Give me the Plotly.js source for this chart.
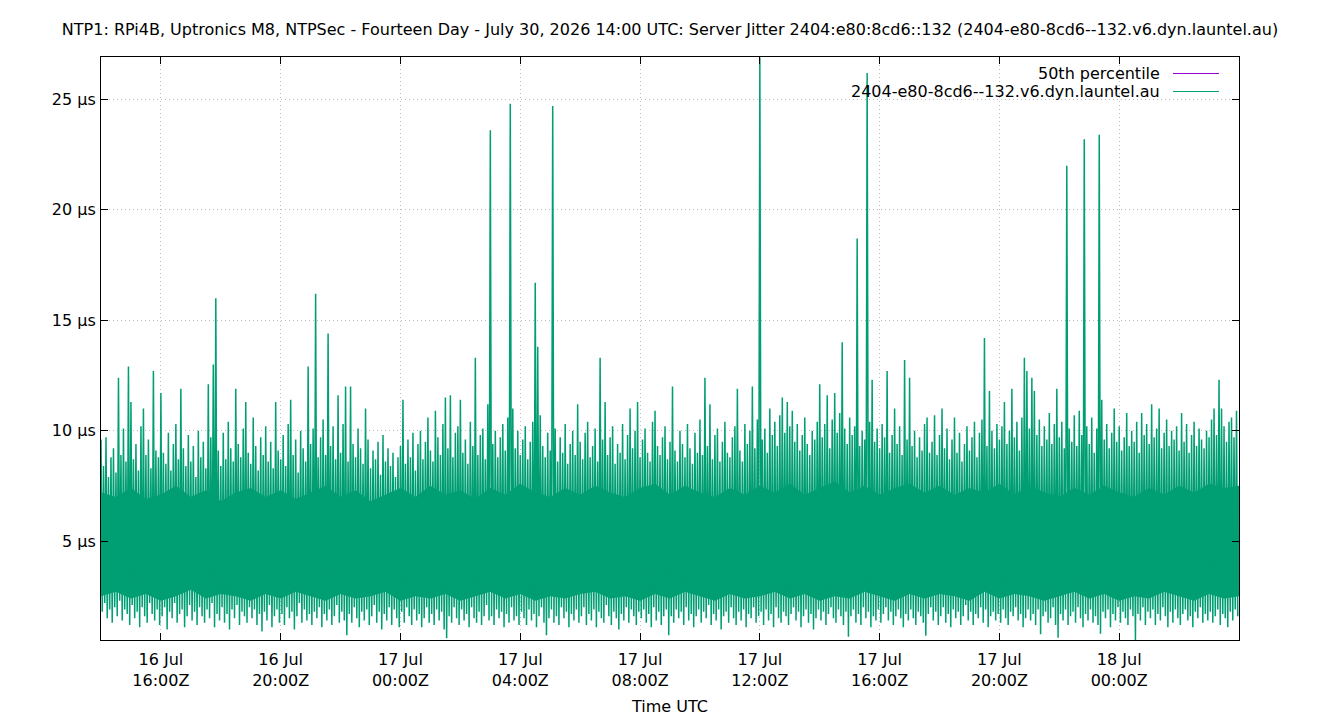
<!DOCTYPE html>
<html>
<head>
<meta charset="utf-8">
<script src="https://cdn.plot.ly/plotly-3.0.1.min.js"></script>
<style>
  html, body { margin: 0; padding: 0; background: #ffffff; }
  #chart { width: 1340px; height: 720px; }
</style>
</head>
<body>
<div id="chart"></div>
<script>
// ---- Data ----
const chartTitle = "NTP1: RPi4B, Uptronics M8, NTPSec - Fourteen Day - July 30, 2026 14:00 UTC: Server Jitter 2404:e80:8cd6::132 (2404-e80-8cd6--132.v6.dyn.launtel.au)";
const seriesName = "2404-e80-8cd6--132.v6.dyn.launtel.au";
const medianName = "50th percentile";

// sampling: one high and one low reading per 5-minute bin, starting 16 Jul 14:00 UTC
const sampleStart = "2026-07-16T14:00:00Z";
const binMinutes = 5;

// highest jitter reading in each 5-minute bin (µs), 12 per hour
const jitterHigh = [
  9.6, 8.4, 9.7, 7.9, 8.8, 9.2, 8.1, 12.4, 8.9, 10.1, 8.6, 12.9,
  11.3, 8.7, 9.4, 8.2, 10.2, 11.0, 8.9, 9.6, 8.3, 12.7, 9.1, 8.8,
  11.7, 9.0, 8.5, 9.9, 8.2, 9.4, 10.3, 8.7, 11.9, 9.2, 8.4, 9.8,
  8.6, 9.3, 7.9, 10.0, 8.8, 9.5, 8.3, 12.1, 9.7, 13.0, 16.0, 9.1,
  8.4, 9.9, 8.7, 10.4, 9.2, 8.6, 11.9, 9.4, 8.8, 10.1, 11.3, 9.0,
  8.5, 10.6, 9.3, 8.2, 9.7, 8.9, 10.2, 8.6, 9.5, 8.3, 11.3, 9.1,
  8.7, 9.8, 8.4, 10.3, 11.4, 8.9, 9.6, 8.1, 10.0, 9.2, 8.6, 12.9,
  9.4, 10.1, 16.2, 8.8, 9.7, 10.5, 8.9, 14.4, 9.3, 10.2, 8.7, 11.6,
  9.0, 10.3, 12.0, 8.6, 12.0, 9.4, 8.8, 10.1, 9.2, 8.5, 11.0, 9.6,
  8.3, 9.1, 8.7, 9.5, 8.0, 9.8, 8.6, 9.2, 8.4, 9.0, 7.9, 8.8,
  9.3, 11.4, 8.5, 9.6, 8.8, 9.9, 8.2, 9.4, 10.0, 8.7, 9.5, 10.6,
  9.1, 8.6, 10.9, 9.7, 8.9, 10.3, 11.5, 9.2, 11.6, 8.8, 9.9, 10.2,
  11.4, 9.0, 9.6, 8.5, 10.4, 9.3, 13.3, 8.9, 9.8, 10.1, 8.7, 11.2,
  23.6, 9.4, 10.0, 8.8, 9.7, 10.3, 9.1, 10.6, 24.8, 11.0, 9.2, 10.0,
  8.9, 9.6, 10.2, 8.7, 9.5, 10.4, 16.7, 13.8, 10.7, 9.3, 8.8, 9.9,
  9.1, 24.7, 10.1, 8.6, 9.7, 9.0, 10.3, 8.5, 9.4, 10.0, 8.9, 11.2,
  9.5, 8.7, 9.9, 10.4, 8.8, 9.3, 10.1, 8.6, 13.3, 9.6, 11.3, 8.9,
  9.7, 10.2, 8.5, 9.4, 9.0, 10.3, 8.7, 9.8, 11.0, 9.2, 10.0, 11.3,
  8.8, 9.6, 10.1, 9.0, 8.6, 10.4, 10.9, 9.3, 8.9, 9.7, 10.2, 8.7,
  9.5, 12.0, 9.1, 8.6, 10.0, 9.4, 8.8, 10.3, 9.2, 8.5, 9.9, 9.0,
  10.5, 8.9, 12.4, 9.3, 11.2, 8.7, 9.8, 10.1, 8.6, 9.5, 10.4, 9.0,
  8.8, 9.7, 10.2, 11.9, 9.1, 8.6, 10.3, 9.4, 10.0, 12.0, 9.2, 10.5,
  26.9, 9.6, 10.1, 9.0, 11.0, 9.8, 10.4, 9.3, 10.7, 11.5, 9.9, 11.3,
  10.2, 10.9, 9.5, 10.3, 9.1, 9.8, 10.6, 9.4, 8.9, 10.0, 9.6, 10.4,
  12.1, 9.7, 10.3, 11.6, 9.2, 10.5, 11.7, 9.9, 10.8, 14.0, 10.1, 9.4,
  10.6, 9.8, 10.2, 18.7, 9.3, 10.0, 9.6, 26.2, 10.4, 12.3, 9.5, 10.1,
  9.2, 10.3, 9.7, 12.7, 9.0, 9.8, 11.0, 9.4, 10.2, 8.9, 13.2, 9.6,
  12.4, 9.3, 10.0, 8.8, 9.7, 9.1, 10.3, 10.6, 9.0, 9.5, 10.7, 8.9,
  9.8, 11.0, 9.2, 10.1, 8.7, 9.6, 10.6, 9.0, 9.9, 8.6, 9.4, 10.2,
  9.1, 9.7, 10.4, 8.8, 9.9, 10.5, 14.2, 9.3, 11.8, 10.0, 9.2, 10.3,
  9.6, 10.2, 11.3, 9.4, 10.0, 11.9, 9.7, 10.4, 9.1, 10.6, 13.3, 12.7,
  10.1, 12.4, 11.8, 9.8, 10.5, 9.3, 10.2, 9.6, 10.8, 9.4, 10.3, 11.9,
  9.7, 10.4, 9.2, 22.0, 10.1, 9.5, 10.7, 9.3, 10.9, 9.8, 23.2, 10.2,
  9.4, 10.6, 9.0, 10.1, 23.4, 11.4, 9.6, 10.3, 9.2, 9.9, 11.0, 9.5,
  10.2, 9.1, 9.7, 10.8, 9.3, 10.0, 9.5, 10.4, 9.0, 10.8, 9.8, 10.3,
  9.4, 11.2, 9.7, 10.1, 11.0, 9.2, 9.9, 10.5, 9.3, 10.0, 9.6, 10.2,
  9.1, 10.8, 9.5, 10.3, 9.0, 9.8, 10.4, 9.3, 10.1, 9.6, 9.2, 10.0,
  9.7, 10.5, 11.0, 9.8, 12.3, 11.0, 10.2, 9.5, 10.4, 10.6, 9.7, 10.9
];

// lowest jitter reading in each 5-minute bin (µs), 12 per hour
const jitterLow = [
  1.8, 2.2, 1.5, 1.9, 1.3, 2.0, 1.6, 2.3, 1.4, 1.9, 1.7, 1.2,
  2.1, 1.5, 1.8, 1.1, 2.0, 1.6, 1.3, 2.2, 1.7, 1.4, 1.9, 1.2,
  1.6, 2.0, 1.0, 1.8, 1.5, 2.2, 1.3, 1.7, 1.9, 1.1, 1.6, 2.1,
  1.4, 1.8, 1.2, 2.0, 1.6, 1.3, 1.9, 1.5, 2.2, 1.1, 1.7, 1.4,
  2.0, 1.3, 1.7, 1.0, 1.9, 1.5, 2.1, 1.2, 1.8, 1.6, 1.3, 2.0,
  1.5, 1.9, 1.2, 1.7, 0.9, 1.8, 1.4, 2.1, 1.1, 1.6, 1.9, 1.3,
  1.7, 1.2, 2.0, 1.5, 1.8, 1.0, 1.6, 2.2, 1.3, 1.9, 1.4, 1.7,
  1.2, 1.8, 1.5, 2.0, 1.1, 1.7, 1.4, 1.9, 1.2, 1.6, 2.1, 1.3,
  1.8, 1.4, 0.74, 1.7, 1.3, 2.0, 1.5, 1.1, 1.8, 1.4, 1.9, 1.2,
  1.6, 2.1, 1.3, 1.8, 1.0, 1.7, 1.4, 2.0, 1.2, 1.9, 1.5, 1.1,
  1.8, 1.3, 2.0, 1.6, 1.2, 1.9, 1.4, 1.7, 1.1, 1.5, 2.0, 1.3,
  1.7, 1.2, 1.9, 1.4, 1.8, 1.0, 0.6, 1.6, 1.3, 2.0, 1.5, 1.2,
  1.9, 1.4, 1.7, 1.1, 2.0, 1.5, 1.3, 1.8, 1.2, 1.6, 2.1, 1.4,
  1.6, 1.2, 1.9, 1.5, 1.8, 1.1, 1.7, 1.3, 2.0, 1.4, 1.6, 1.2,
  1.8, 1.5, 1.2, 1.9, 1.4, 1.7, 1.1, 1.6, 2.0, 1.3, 0.74, 1.5,
  1.9, 1.3, 1.6, 1.2, 2.0, 1.5, 1.8, 1.1, 1.7, 1.4, 1.9, 1.3,
  1.6, 2.0, 1.2, 1.7, 1.4, 1.9, 1.1, 1.8, 1.5, 1.3, 2.1, 1.6,
  1.2, 1.8, 1.5, 1.0, 1.7, 1.4, 2.0, 1.3, 1.9, 1.6, 1.2, 1.8,
  1.5, 1.9, 1.3, 1.7, 1.1, 2.0, 1.4, 1.8, 1.2, 1.6, 1.9, 0.74,
  1.6, 1.3, 1.9, 1.5, 1.8, 1.2, 2.0, 1.4, 1.7, 1.1, 1.6, 1.9,
  1.3, 1.8, 1.5, 2.1, 1.2, 1.7, 1.4, 1.9, 1.0, 1.6, 1.8, 1.3,
  2.0, 1.5, 1.2, 1.8, 1.4, 1.9, 1.1, 1.7, 1.5, 2.0, 1.3, 1.6,
  1.8, 1.2, 1.9, 1.4, 1.7, 1.1, 2.0, 1.5, 1.3, 1.8, 1.6, 1.2,
  1.7, 2.0, 1.4, 1.8, 1.1, 1.6, 1.9, 1.3, 1.7, 1.0, 1.5, 1.9,
  1.4, 1.8, 1.2, 1.7, 2.0, 1.5, 1.3, 1.9, 1.6, 1.2, 1.8, 0.67,
  1.6, 1.9, 1.3, 1.7, 1.2, 2.0, 1.5, 1.8, 1.1, 1.6, 1.4, 1.9,
  1.3, 1.7, 2.0, 1.4, 1.8, 1.2, 1.6, 1.9, 1.5, 1.1, 1.7, 1.4,
  1.9, 1.5, 1.2, 1.8, 1.6, 1.3, 0.71, 1.7, 2.0, 1.4, 1.8, 1.2,
  1.6, 2.0, 1.3, 1.7, 1.1, 1.9, 1.5, 1.8, 1.2, 1.6, 2.1, 1.4,
  1.8, 1.2, 1.7, 1.5, 2.0, 1.3, 1.9, 1.1, 1.6, 1.8, 1.4, 1.7,
  1.3, 1.9, 1.5, 1.2, 1.8, 1.6, 2.0, 1.4, 1.7, 1.1, 1.5, 1.9,
  1.4, 1.7, 1.2, 1.9, 0.78, 1.6, 1.8, 1.3, 1.5, 2.0, 1.2, 0.62,
  1.7, 1.4, 1.9, 1.2, 1.6, 1.8, 1.3, 2.0, 1.5, 1.1, 1.7, 1.4,
  1.9, 1.3, 1.6, 1.2, 0.8, 1.8, 1.5, 1.9, 1.1, 1.7, 1.4, 2.0,
  1.3, 1.8, 1.5, 1.2, 1.9, 1.6, 0.52, 1.7, 1.4, 2.0, 1.2, 1.8,
  1.5, 1.9, 1.2, 1.7, 1.4, 2.0, 1.6, 1.1, 1.8, 1.3, 1.9, 1.5,
  1.2, 1.7, 1.9, 1.4, 1.6, 1.1, 1.8, 1.5, 2.0, 1.3, 1.7, 1.4,
  1.8, 1.3, 1.6, 1.9, 1.2, 1.7, 1.5, 1.1, 1.8, 1.4, 1.9, 1.6
];

// edges of the solid (densely overplotted) core of the jitter readings, every 30 minutes (µs)
const coreMinutes = 30;
const coreTop = [
  7.2, 7.0, 7.4, 6.9, 7.1, 7.5, 7.0, 7.3, 6.8, 7.2, 7.4,
  7.0, 7.3, 6.9, 7.2, 7.5, 7.0, 7.3, 6.8, 7.1, 7.4, 7.0,
  7.5, 7.1, 7.3, 6.9, 7.4, 7.1, 7.6, 7.2, 7.0, 7.4, 7.1,
  7.5, 7.2, 7.0, 7.4, 7.6, 7.1, 7.5, 7.2, 7.0, 7.4, 7.1,
  7.5, 7.2, 7.6, 7.1, 7.4, 7.7, 7.2, 7.5, 7.1, 7.4, 7.6,
  7.2, 7.5, 7.1, 7.4, 7.2, 7.6, 7.1, 7.5, 7.2, 7.0, 7.4,
  7.1, 7.5, 7.2, 7.0, 7.4, 7.1, 7.5, 7.2, 7.6, 7.4, 7.5
];
const coreBottom = [
  2.5, 2.7, 2.4, 2.6, 2.3, 2.5, 2.8, 2.4, 2.6, 2.5, 2.3,
  2.6, 2.4, 2.7, 2.5, 2.3, 2.6, 2.4, 2.5, 2.7, 2.3, 2.5,
  2.4, 2.6, 2.3, 2.5, 2.7, 2.4, 2.6, 2.3, 2.5, 2.4, 2.6,
  2.7, 2.4, 2.5, 2.3, 2.6, 2.4, 2.7, 2.5, 2.3, 2.6, 2.4,
  2.5, 2.7, 2.4, 2.6, 2.3, 2.5, 2.4, 2.7, 2.5, 2.3, 2.6,
  2.4, 2.6, 2.5, 2.3, 2.7, 2.4, 2.6, 2.5, 2.3, 2.5, 2.7,
  2.4, 2.6, 2.3, 2.5, 2.4, 2.7, 2.5, 2.3, 2.6, 2.4, 2.5
];

// running 50th percentile (µs), hidden beneath the jitter trace
const medianTimes = ["2026-07-16 14:00", "2026-07-18 04:00"];
const medianValues = [4.3, 4.3];

// axis ticks
const xTickVals = ["2026-07-16 16:00", "2026-07-16 20:00", "2026-07-17 00:00", "2026-07-17 04:00",
                   "2026-07-17 08:00", "2026-07-17 12:00", "2026-07-17 16:00", "2026-07-17 20:00",
                   "2026-07-18 00:00"];
const xTickText = ["16 Jul<br>16:00Z", "16 Jul<br>20:00Z", "17 Jul<br>00:00Z", "17 Jul<br>04:00Z",
                   "17 Jul<br>08:00Z", "17 Jul<br>12:00Z", "17 Jul<br>16:00Z", "17 Jul<br>20:00Z",
                   "18 Jul<br>00:00Z"];
const yTickVals = [5, 10, 15, 20, 25];
const yTickText = ["5 µs", "10 µs", "15 µs", "20 µs", "25 µs"];

// ---- Build the series ----
function fmt(ms) {
  return new Date(ms).toISOString().slice(0, 19).replace("T", " ");
}
const t0 = Date.parse(sampleStart);
const xs = [], ys = [];
for (let i = 0; i < jitterHigh.length; i++) {
  const binStart = t0 + i * binMinutes * 60000;
  xs.push(fmt(binStart));
  ys.push(jitterHigh[i]);
  xs.push(fmt(binStart + binMinutes * 30000));
  ys.push(jitterLow[i]);
}
const coreX = coreTop.map((_, k) => fmt(t0 + k * coreMinutes * 60000));

const green = "#009e73";
const purple = "#9400d3";
const font = "DejaVu Sans, Liberation Sans, sans-serif";
const gridDots = "1px,3px";

const traces = [
  {
    type: "scatter", mode: "lines", name: medianName,
    x: medianTimes, y: medianValues,
    line: { color: purple, width: 1 }, hoverinfo: "skip", showlegend: false
  },
  {
    type: "scatter", mode: "lines", name: "core-low",
    x: coreX, y: coreBottom,
    line: { width: 0, color: green }, hoverinfo: "skip", showlegend: false
  },
  {
    type: "scatter", mode: "lines", name: "core-high",
    x: coreX, y: coreTop, fill: "tonexty", fillcolor: green,
    line: { width: 0, color: green }, hoverinfo: "skip", showlegend: false
  },
  {
    type: "scatter", mode: "lines", name: seriesName,
    x: xs, y: ys,
    line: { color: green, width: 1.5, simplify: false }, showlegend: false
  }
];

const layout = {
  width: 1340, height: 720,
  paper_bgcolor: "#ffffff", plot_bgcolor: "#ffffff",
  margin: { l: 101, r: 101, t: 57, b: 80 },
  font: { family: font, size: 16, color: "#000000" },
  title: {
    text: chartTitle, x: 0.5, xanchor: "center",
    y: 1 - 29 / 720, yref: "container", yanchor: "middle",
    font: { family: font, size: 16, color: "#000000" }
  },
  showlegend: false,
  xaxis: {
    type: "date",
    range: ["2026-07-16 14:00", "2026-07-18 04:00"],
    tickvals: xTickVals, ticktext: xTickText,
    ticks: "inside", ticklen: 7, tickcolor: "#000000", tickwidth: 1,
    ticklabelstandoff: 5,
    showline: true, mirror: "ticks", linecolor: "#000000", linewidth: 1,
    showgrid: true, gridcolor: "#bdbdbd", griddash: gridDots, gridwidth: 1,
    zeroline: false,
    tickfont: { family: font, size: 16, color: "#000000" },
    title: { text: "Time UTC", font: { family: font, size: 16, color: "#000000" }, standoff: 11 }
  },
  yaxis: {
    range: [0.52, 26.92],
    tickvals: yTickVals, ticktext: yTickText,
    ticks: "inside", ticklen: 7, tickcolor: "#000000", tickwidth: 1,
    ticklabelstandoff: 1,
    showline: true, mirror: "ticks", linecolor: "#000000", linewidth: 1,
    showgrid: true, gridcolor: "#bdbdbd", griddash: gridDots, gridwidth: 1,
    zeroline: false,
    tickfont: { family: font, size: 16, color: "#000000" }
  },
  annotations: [
    { xref: "paper", yref: "paper", x: 0.9325, y: 0.9709, xanchor: "right", yanchor: "middle",
      text: medianName, showarrow: false, font: { family: font, size: 16, color: "#000000" } },
    { xref: "paper", yref: "paper", x: 0.9325, y: 0.9400, xanchor: "right", yanchor: "middle",
      text: seriesName, showarrow: false, font: { family: font, size: 16, color: "#000000" } }
  ],
  shapes: [
    { type: "line", xref: "paper", yref: "paper", x0: 0.942, x1: 0.9824, y0: 0.9717, y1: 0.9717,
      line: { color: purple, width: 1 } },
    { type: "line", xref: "paper", yref: "paper", x0: 0.942, x1: 0.9824, y0: 0.9408, y1: 0.9408,
      line: { color: green, width: 1 } }
  ]
};

Plotly.newPlot("chart", traces, layout, { staticPlot: true, displayModeBar: false });
</script>
</body>
</html>
